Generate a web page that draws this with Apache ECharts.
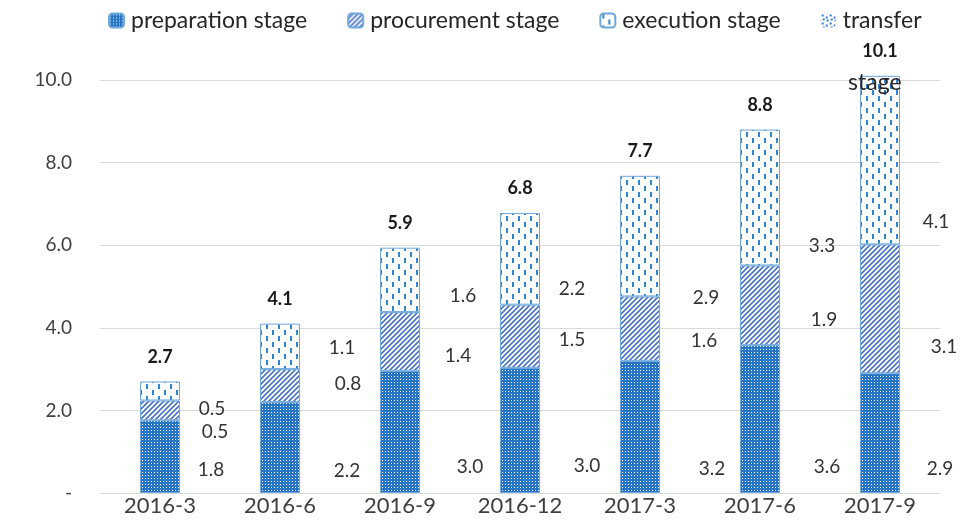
<!DOCTYPE html>
<html>
<head>
<meta charset="utf-8">
<script src="https://cdn.jsdelivr.net/npm/echarts@6/dist/echarts.min.js"></script>
<style>
  html, body { margin: 0; padding: 0; background: #fff; }
  #vis { width: 964px; height: 523px; }
</style>
</head>
<body>
<div id="vis"></div>
<script>
const periods = ['2016-3', '2016-6', '2016-9', '2016-12', '2017-3', '2017-6', '2017-9']
const preparation = [1.76, 2.2, 2.96, 3.03, 3.2, 3.58, 2.9]
const procurement = [0.48, 0.8, 1.42, 1.53, 1.56, 1.93, 3.12]
const execution = [0.46, 1.1, 1.56, 2.22, 2.92, 3.29, 4.08]
const transfer = [0, 0, 0, 0, 0, 0, 0]
const yTicks = [0, 2, 4, 6, 8, 10]

// the labels in the original were dragged around by hand, so nudge them [dx, dy]
const prepShift = [[31, 13], [47, 23], [50, 35], [47, 35], [52, 42], [47, 48], [40, 36]]
const procShift = [[35, 21], [48, -2], [38, 14], [32, 4], [44, 12], [44, 15], [44, 38]]
const execShift = [[32, 18], [42, 1], [43, 16], [32, 30], [46, 62], [42, 48], [36, 62]]

const FONT = 'Lato, "Open Sans", sans-serif'

function pattern (w, h, draw) {
  const c = document.createElement('canvas')
  c.width = w
  c.height = h
  const ctx = c.getContext('2d')
  draw(ctx)
  return { image: c, repeat: 'repeat' }
}

const prepFill = pattern(3, 3, ctx => {
  ctx.fillStyle = '#2776c6'
  ctx.fillRect(0, 0, 3, 3)
  ctx.fillStyle = '#ffffff'
  ctx.fillRect(1, 1, 1, 1)
})

const procFill = pattern(5, 5, ctx => {
  ctx.fillStyle = '#ffffff'
  ctx.fillRect(0, 0, 5, 5)
  ctx.strokeStyle = '#4a72c2'
  ctx.lineWidth = 1.6
  ctx.beginPath()
  ctx.moveTo(-1, 6); ctx.lineTo(6, -1)
  ctx.moveTo(-1, 1); ctx.lineTo(1, -1)
  ctx.moveTo(4, 6); ctx.lineTo(6, 4)
  ctx.stroke()
})

const execFill = pattern(12, 12, ctx => {
  ctx.fillStyle = '#ffffff'
  ctx.fillRect(0, 0, 12, 12)
  ctx.fillStyle = '#2e86d0'
  ctx.fillRect(2, 0, 2, 5)
  ctx.fillRect(8, 6, 2, 5)
})

const transferFill = pattern(8, 8, ctx => {
  ctx.fillStyle = '#ffffff'
  ctx.fillRect(0, 0, 8, 8)
  ctx.fillStyle = '#2e7bcb'
  ctx.fillRect(1, 1, 2, 2)
  ctx.fillRect(5, 3, 2, 2)
  ctx.fillRect(2, 5, 2, 2)
  ctx.fillRect(6, 6, 2, 2)
})

const totals = periods.map((p, i) => preparation[i] + procurement[i] + execution[i] + transfer[i])

function barSeries (name, values, fill, shifts) {
  return {
    name,
    type: 'bar',
    stack: 'total',
    barWidth: 40,
    clip: false,
    data: values.map((v, i) => ({ value: v, label: { offset: shifts[i] } })),
    itemStyle: { color: fill, borderColor: '#6fa8dc', borderWidth: 1 },
    label: {
      show: true,
      position: 'right',
      distance: 0,
      align: 'center',
      verticalAlign: 'middle',
      fontFamily: FONT,
      fontSize: 19,
      color: '#333333',
      formatter: p => p.value.toFixed(1)
    }
  }
}

const chart = echarts.init(document.getElementById('vis'), null, { renderer: 'canvas' })

chart.setOption({
  animation: false,
  textStyle: { fontFamily: FONT },
  legend: {
    data: ['preparation stage', 'procurement stage', 'execution stage', 'transfer'],
    left: 103,
    top: 4,
    itemWidth: 15,
    itemHeight: 14,
    itemGap: 40,
    textStyle: { fontFamily: FONT, fontSize: 23, color: '#262626', padding: [0, 0, 0, 2] }
  },
  grid: { left: 100, right: 24, top: 80, bottom: 30, containLabel: false },
  xAxis: {
    type: 'category',
    data: periods,
    axisLine: { show: true, lineStyle: { color: '#d9d9d9', width: 1 } },
    axisTick: { show: false },
    axisLabel: { fontFamily: FONT, fontSize: 22, color: '#404040', margin: 2 }
  },
  yAxis: {
    type: 'value',
    min: yTicks[0],
    max: yTicks[yTicks.length - 1],
    interval: 2,
    axisLine: { show: false },
    axisTick: { show: false },
    splitLine: { lineStyle: { color: '#d9d9d9', width: 1 } },
    axisLabel: {
      fontFamily: FONT,
      fontSize: 19,
      color: '#404040',
      margin: 28,
      formatter: v => (v === 0 ? '-' : v.toFixed(1))
    }
  },
  series: [
    barSeries('preparation stage', preparation, prepFill, prepShift),
    barSeries('procurement stage', procurement, procFill, procShift),
    barSeries('execution stage', execution, execFill, execShift),
    {
      name: 'transfer',
      type: 'bar',
      stack: 'total',
      barWidth: 40,
      clip: false,
      data: transfer,
      itemStyle: { color: transferFill, borderColor: '#6fa8dc', borderWidth: 0 }
    },
    {
      name: 'total',
      type: 'line',
      data: totals,
      silent: true,
      clip: false,
      symbol: 'circle',
      symbolSize: 1,
      itemStyle: { color: 'rgba(0,0,0,0)' },
      lineStyle: { width: 0, opacity: 0 },
      z: 5,
      label: {
        show: true,
        position: 'top',
        distance: 15,
        lineHeight: 18,
        fontFamily: FONT,
        fontSize: 18,
        fontWeight: 'bold',
        color: '#1a1a1a',
        formatter: p => p.value.toFixed(1)
      }
    }
  ],
  graphic: [
    {
      type: 'text',
      left: 848,
      top: 71,
      z: 100,
      style: { text: 'stage', font: '23px ' + FONT, fill: '#262626' }
    }
  ]
})
</script>
</body>
</html>
